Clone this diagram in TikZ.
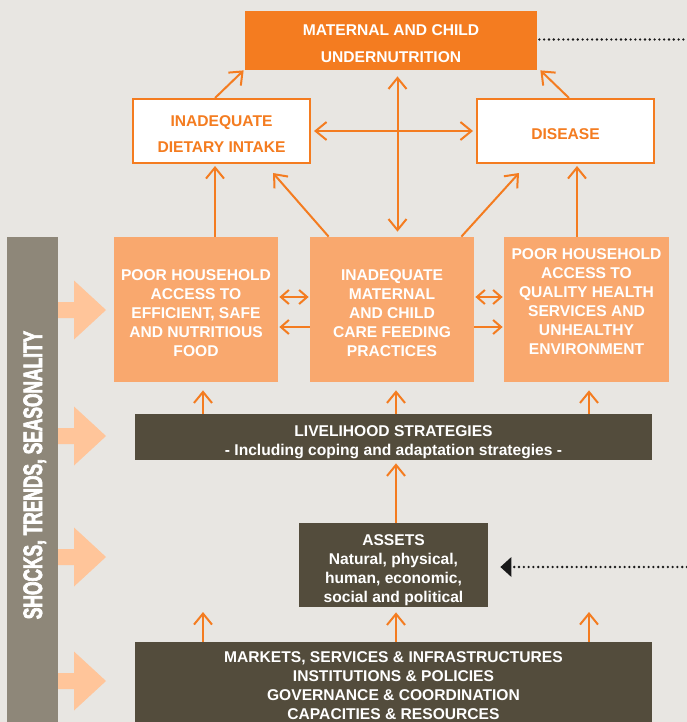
\documentclass[tikz,border=0pt]{standalone}
\usepackage{fontspec}
\setmainfont{Liberation Sans}
\newfontfamily\condfont[FakeStretch=0.65,FakeBold=2.5]{Liberation Sans Bold}
\usetikzlibrary{arrows.meta,calc}

\definecolor{bgcol}{RGB}{232,230,226}
\definecolor{orng}{RGB}{244,124,32}
\definecolor{peach}{RGB}{249,168,110}
\definecolor{lightpeach}{RGB}{255,197,154}
\definecolor{darkbrown}{RGB}{83,76,60}
\definecolor{bargrey}{RGB}{142,135,121}
\definecolor{dotcol}{RGB}{25,25,25}

% raises the top of the first line, pushes the text down
\newcommand{\capup}[1]{\rule{0pt}{#1}}

\tikzset{every picture/.style={line width=0.75pt}}
\tikzset{
  txt/.style={font=\bfseries\fontsize{15.6}{19}\selectfont, align=center, inner sep=0pt},
  topbox/.style={txt, fill=orng, text=white, minimum width=292pt, minimum height=59pt,
    font=\bfseries\fontsize{15.6}{27}\selectfont},
  whitebox/.style={txt, fill=white, draw=orng, line width=2pt, text=orng,
    minimum width=177pt, minimum height=64pt, font=\bfseries\fontsize{15.6}{26}\selectfont},
  peachbox/.style={txt, fill=peach, text=white, minimum width=164pt, minimum height=145pt},
  brownbox/.style={txt, fill=darkbrown, text=white},
  bartxt/.style={text=white, inner sep=0pt, font=\condfont\fontsize{26.7}{30}\selectfont},
  arr/.style={draw=orng, line width=2pt, -{Straight Barb[length=11pt,width=18pt]}},
  darr/.style={draw=orng, line width=2pt, {Straight Barb[length=11pt,width=18pt]}-{Straight Barb[length=11pt,width=18pt]}},
  sarr/.style={draw=orng, line width=2pt, -{Straight Barb[length=8pt,width=14pt]}, shorten >=1pt},
  sdarr/.style={draw=orng, line width=2pt, {Straight Barb[length=8pt,width=14pt]}-{Straight Barb[length=8pt,width=14pt]}, shorten <=1pt, shorten >=1pt},
  dotline/.style={draw=dotcol, line width=2.6pt, line cap=round, dash pattern=on 0pt off 4.8pt}
}

\begin{document}
\begin{tikzpicture}[x=1pt,y=1pt,yscale=-1,xscale=1]
\fill[bgcol] (0,0) rectangle (687,722);
\useasboundingbox (0,0) rectangle (687,722);

%Shape: Side Bar
\fill[bargrey] (7,237) rectangle (58,730);
\node[bartxt, rotate=90, anchor=base] (shocks) at (42,475) {SHOCKS, TRENDS, SEASONALITY};

%Shape: Block Arrows
\fill[lightpeach, shift={(0,310)}] (58,-8) -- (74,-8) -- (74,-29.5) -- (106,0) -- (74,29.5) -- (74,8) -- (58,8) -- cycle;
\fill[lightpeach, shift={(0,436)}] (58,-8) -- (74,-8) -- (74,-29.5) -- (106,0) -- (74,29.5) -- (74,8) -- (58,8) -- cycle;
\fill[lightpeach, shift={(0,557)}] (58,-8) -- (74,-8) -- (74,-29.5) -- (106,0) -- (74,29.5) -- (74,8) -- (58,8) -- cycle;
\fill[lightpeach, shift={(0,681)}] (58,-8) -- (74,-8) -- (74,-29.5) -- (106,0) -- (74,29.5) -- (74,8) -- (58,8) -- cycle;

% Boxes
\node[topbox] (mcu) at (391,40.5) {\capup{17.4pt}MATERNAL AND CHILD\\UNDERNUTRITION};
\node[whitebox] (diet) at (221.5,131) {\capup{17.4pt}INADEQUATE\\DIETARY INTAKE};
\node[whitebox] (dis) at (565.5,131) {\capup{17.4pt}DISEASE};
\node[peachbox] (food) at (196,309.5) {\capup{17.4pt}POOR HOUSEHOLD\\ACCESS TO\\EFFICIENT, SAFE\\AND NUTRITIOUS\\FOOD};
\node[peachbox] (care) at (392,309.5) {\capup{17.4pt}INADEQUATE\\MATERNAL\\AND CHILD\\CARE FEEDING\\PRACTICES};
\node[peachbox, minimum width=165pt] (health) at (586.5,309.5) {\capup{13.4pt}POOR HOUSEHOLD\\ACCESS TO\\QUALITY HEALTH\\SERVICES AND\\UNHEALTHY\\ENVIRONMENT\\\mbox{}};
\node[brownbox, minimum width=517pt, minimum height=46pt] (live) at (393.5,437) {\capup{21.4pt}LIVELIHOOD STRATEGIES\\- Including coping and adaptation strategies -};
\node[brownbox, minimum width=189pt, minimum height=84pt] (assets) at (393.5,565) {\capup{20.4pt}ASSETS\\Natural, physical,\\human, economic,\\social and political};
\node[brownbox, minimum width=517pt, minimum height=88pt] (mkt) at (393.5,686) {MARKETS, SERVICES \& INFRASTRUCTURES\\INSTITUTIONS \& POLICIES\\GOVERNANCE \& COORDINATION\\CAPACITIES \& RESOURCES};

\coordinate (mktl) at (203,612);
\coordinate (mktr) at (589,612);
\coordinate (rtop) at (687,39.5);
\coordinate (rmid) at (687,567);

%Straight Lines: top level
\draw[arr] ($(diet.north)+(-6.5,0)$) -- ($(mcu.south west)+(-1,0)$);
\draw[arr] ($(dis.north)+(3.5,0)$) -- ($(mcu.south east)+(3,0)$);
\draw[darr, shorten <=3pt, shorten >=3pt] (diet) -- (dis);
\draw[darr] ($(mcu.south)+(6.5,6)$) -- ($(care.north)+(5.5,-5)$);

%Straight Lines: middle row up
\draw[arr] ($(food.north)+(19,0)$) -- ($(diet.south)+(-6.5,2)$);
\draw[arr] ($(care.north west)+(19,0)$) -- ($(diet.south east)+(-38,9)$);
\draw[arr] ($(care.north east)+(-13,0)$) -- ($(dis.south west)+(43,9)$);
\draw[arr] ($(health.north)+(-9.5,0)$) -- ($(dis.south)+(11.5,2)$);

%Straight Lines: between middle boxes
\draw[sdarr] ($(food.east)+(0,-12.5)$) -- ($(care.west)+(0,-12.5)$);
\draw[sarr] ($(care.west)+(0,17.5)$) -- ($(food.east)+(0,17.5)$);
\draw[sdarr] ($(care.east)+(0,-12.5)$) -- ($(health.west)+(0,-12.5)$);
\draw[sarr] ($(care.east)+(0,17.5)$) -- ($(health.west)+(0,17.5)$);

%Straight Lines: lower levels
\draw[arr] ($(live.north)+(-190.5,0)$) -- ($(food.south)+(7,8)$);
\draw[arr] ($(live.north)+(2.5,0)$) -- ($(care.south)+(4,8)$);
\draw[arr] ($(live.north)+(195.5,0)$) -- ($(health.south)+(2.5,8)$);
\draw[arr] ($(assets.north)+(2.5,0)$) -- ($(live.south)+(2.5,3)$);
\draw[arr] ($(mkt.north)+(-190.5,0)$) -- (mktl);
\draw[arr] ($(mkt.north)+(2.5,0)$) -- ($(assets.south)+(2.5,5)$);
\draw[arr] ($(mkt.north)+(195.5,0)$) -- (mktr);

%Dotted Lines
\draw[dotline] ($(mcu.east)+(2,-1)$) -- (rtop);
\draw[dotline, -{Triangle[length=11pt,width=20pt,fill=dotcol,line width=0pt]}] (rmid) -- ($(assets.east)+(12,2)$);

\end{tikzpicture}
\end{document}
